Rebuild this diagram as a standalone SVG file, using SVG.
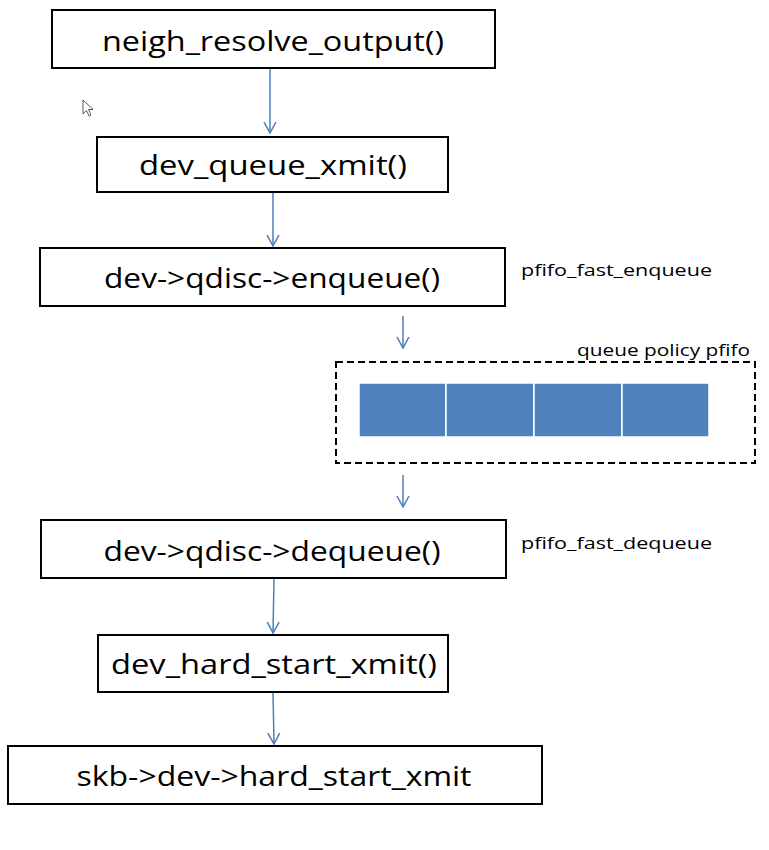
<svg xmlns="http://www.w3.org/2000/svg" width="769" height="850" viewBox="0 0 769 850">
<style>
.box{fill:#fff;stroke:#000;stroke-width:2}
.t{font-family:"Open Sans","Liberation Sans",sans-serif;font-size:27px;fill:#000;text-anchor:middle}
.s{font-family:"Open Sans","Liberation Sans",sans-serif;font-size:17px;fill:#000}
.c{stroke:#4A7EBB;stroke-width:1.5;fill:none}
.cell{fill:#4F81BD;stroke:#fff;stroke-width:1.5}
</style>
<defs>
<marker id="ah" viewBox="0 0 12 14" refX="11" refY="7" markerWidth="12" markerHeight="14" markerUnits="userSpaceOnUse" orient="auto">
<path d="M0,1 L11,7 L0,13" fill="none" stroke="#4A7EBB" stroke-width="1.5"/>
</marker>
</defs>
<rect width="769" height="850" fill="#fff"/>
<g id="connectors">
<line class="c" x1="270" y1="68" x2="270" y2="133" marker-end="url(#ah)"/>
<line class="c" x1="273" y1="192" x2="273" y2="246" marker-end="url(#ah)"/>
<line class="c" x1="403" y1="316" x2="403" y2="348" marker-end="url(#ah)"/>
<line class="c" x1="403" y1="475" x2="403" y2="507" marker-end="url(#ah)"/>
<line class="c" x1="274" y1="578" x2="273" y2="633" marker-end="url(#ah)"/>
<line class="c" x1="273" y1="692" x2="274" y2="744" marker-end="url(#ah)"/>
</g>
<g id="n1"><rect class="box" x="52" y="10" width="443" height="58"/><text class="t" x="273" y="51" textLength="342" lengthAdjust="spacingAndGlyphs">neigh_resolve_output()</text></g>
<g id="n2"><rect class="box" x="97" y="137" width="351" height="55"/><text class="t" x="273" y="175" textLength="268" lengthAdjust="spacingAndGlyphs">dev_queue_xmit()</text></g>
<g id="n3"><rect class="box" x="40" y="248" width="465" height="58"/><text class="t" x="272" y="288" textLength="336" lengthAdjust="spacingAndGlyphs">dev->qdisc->enqueue()</text></g>
<g id="l_enq"><text class="s" x="521" y="276" textLength="191" lengthAdjust="spacingAndGlyphs">pfifo_fast_enqueue</text></g>
<g id="queue">
<rect x="336" y="362" width="419" height="101" fill="none" stroke="#000" stroke-width="2" stroke-dasharray="7,4"/>
<text class="s" x="577" y="356" textLength="173" lengthAdjust="spacingAndGlyphs">queue policy pfifo</text>
<rect class="cell" x="359" y="383" width="87" height="54"/>
<rect class="cell" x="446" y="383" width="88" height="54"/>
<rect class="cell" x="534" y="383" width="88" height="54"/>
<rect class="cell" x="622" y="383" width="87" height="54"/>
</g>
<g id="n4"><rect class="box" x="41" y="520" width="465" height="58"/><text class="t" x="272" y="561" textLength="337" lengthAdjust="spacingAndGlyphs">dev->qdisc->dequeue()</text></g>
<g id="l_deq"><text class="s" x="521" y="549" textLength="191" lengthAdjust="spacingAndGlyphs">pfifo_fast_dequeue</text></g>
<g id="n5"><rect class="box" x="98" y="635" width="350" height="57"/><text class="t" x="274" y="674" textLength="326" lengthAdjust="spacingAndGlyphs">dev_hard_start_xmit()</text></g>
<g id="n6"><rect class="box" x="8" y="746" width="534" height="58"/><text class="t" x="274" y="786" textLength="395" lengthAdjust="spacingAndGlyphs">skb->dev->hard_start_xmit</text></g>
<g id="cursor"><path d="M83,100 L83,114 L86.5,110.5 L89,116 L91,115 L88.5,109.5 L93,109.5 Z" fill="#fff" stroke="#333" stroke-width="0.8"/></g>
</svg>
